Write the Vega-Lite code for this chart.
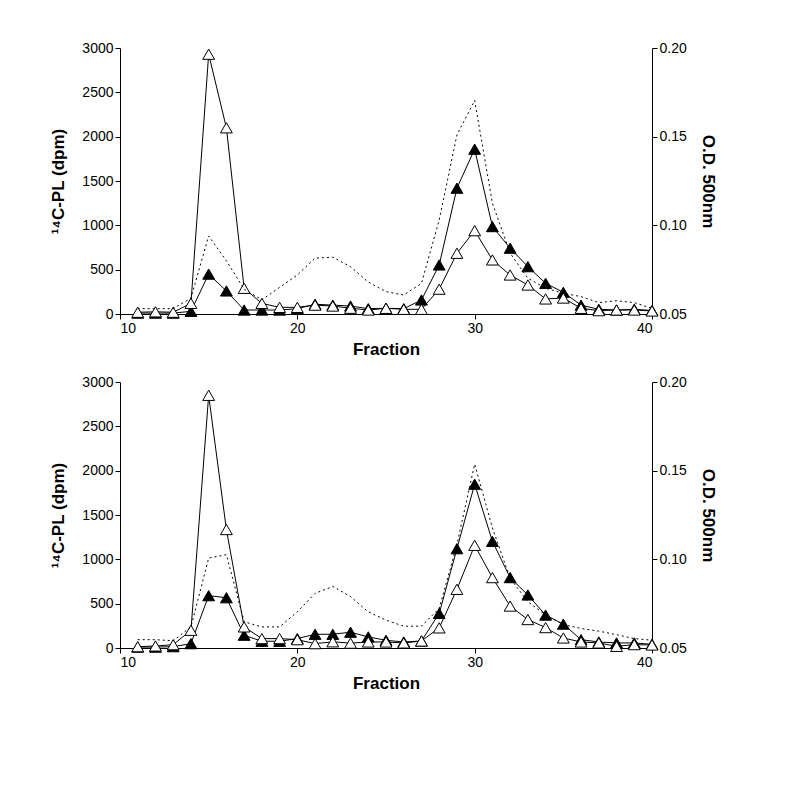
{
  "$schema": "https://vega.github.io/schema/vega-lite/v6.json",
  "padding": {"left": 49, "top": 41, "right": 5, "bottom": 5},
  "background": "white",
  "bounds": "flush",
  "spacing": 68,
  "config": {
    "view": {"stroke": null},
    "axis": {
      "labelFont": "Liberation Sans", "labelFontSize": 14, "labelColor": "black",
      "titleFont": "Liberation Sans", "titleFontSize": 17, "titleFontWeight": "bold", "titleColor": "black",
      "domainColor": "black", "tickColor": "black", "grid": false, "tickSize": 5, "labelPadding": 2
    }
  },
  "datasets": {
    "d": [
      {"p":1,"f":11,"open":20,"filled":10,"od":0.053},
      {"p":1,"f":12,"open":25,"filled":10,"od":0.053},
      {"p":1,"f":13,"open":20,"filled":10,"od":0.053},
      {"p":1,"f":14,"open":120,"filled":30,"od":0.059},
      {"p":1,"f":15,"open":2930,"filled":450,"od":0.094},
      {"p":1,"f":16,"open":2100,"filled":260,"od":0.080},
      {"p":1,"f":17,"open":290,"filled":45,"od":0.064},
      {"p":1,"f":18,"open":120,"filled":45,"od":0.058},
      {"p":1,"f":19,"open":75,"filled":45,"od":0.065},
      {"p":1,"f":20,"open":75,"filled":60,"od":0.072},
      {"p":1,"f":21,"open":100,"filled":110,"od":0.0815},
      {"p":1,"f":22,"open":90,"filled":100,"od":0.082},
      {"p":1,"f":23,"open":65,"filled":90,"od":0.0767},
      {"p":1,"f":24,"open":45,"filled":60,"od":0.068},
      {"p":1,"f":25,"open":64,"filled":65,"od":0.0626},
      {"p":1,"f":26,"open":53,"filled":60,"od":0.0607},
      {"p":1,"f":27,"open":53,"filled":158,"od":0.0673},
      {"p":1,"f":28,"open":280,"filled":553,"od":0.103},
      {"p":1,"f":29,"open":685,"filled":1419,"od":0.151},
      {"p":1,"f":30,"open":940,"filled":1859,"od":0.1704},
      {"p":1,"f":31,"open":610,"filled":986,"od":0.1125},
      {"p":1,"f":32,"open":440,"filled":742,"od":0.0843},
      {"p":1,"f":33,"open":327,"filled":534,"od":0.0702},
      {"p":1,"f":34,"open":170,"filled":346,"od":0.0645},
      {"p":1,"f":35,"open":180,"filled":245,"od":0.0617},
      {"p":1,"f":36,"open":64,"filled":100,"od":0.0598},
      {"p":1,"f":37,"open":38,"filled":53,"od":0.0564},
      {"p":1,"f":38,"open":45,"filled":45,"od":0.0575},
      {"p":1,"f":39,"open":45,"filled":53,"od":0.0564},
      {"p":1,"f":40,"open":34,"filled":40,"od":0.0532},
      {"p":2,"f":11,"open":15,"filled":10,"od":0.0547},
      {"p":2,"f":12,"open":23,"filled":10,"od":0.0547},
      {"p":2,"f":13,"open":37,"filled":15,"od":0.0541},
      {"p":2,"f":14,"open":200,"filled":49,"od":0.0619},
      {"p":2,"f":15,"open":2850,"filled":590,"od":0.1007},
      {"p":2,"f":16,"open":1336,"filled":567,"od":0.1026},
      {"p":2,"f":17,"open":238,"filled":144,"od":0.0648},
      {"p":2,"f":18,"open":106,"filled":76,"od":0.0619},
      {"p":2,"f":19,"open":106,"filled":76,"od":0.0619},
      {"p":2,"f":20,"open":94,"filled":106,"od":0.0704},
      {"p":2,"f":21,"open":49,"filled":155,"od":0.0808},
      {"p":2,"f":22,"open":70,"filled":155,"od":0.0847},
      {"p":2,"f":23,"open":55,"filled":178,"od":0.079},
      {"p":2,"f":24,"open":68,"filled":125,"od":0.0704},
      {"p":2,"f":25,"open":68,"filled":87,"od":0.0657},
      {"p":2,"f":26,"open":57,"filled":68,"od":0.0623},
      {"p":2,"f":27,"open":79,"filled":79,"od":0.0623},
      {"p":2,"f":28,"open":227,"filled":390,"od":0.0723},
      {"p":2,"f":29,"open":662,"filled":1120,"od":0.1083},
      {"p":2,"f":30,"open":1158,"filled":1847,"od":0.1537},
      {"p":2,"f":31,"open":794,"filled":1203,"od":0.1177},
      {"p":2,"f":32,"open":473,"filled":794,"od":0.0893},
      {"p":2,"f":33,"open":321,"filled":598,"od":0.0761},
      {"p":2,"f":34,"open":230,"filled":371,"od":0.0686},
      {"p":2,"f":35,"open":113,"filled":269,"od":0.0632},
      {"p":2,"f":36,"open":68,"filled":94,"od":0.061},
      {"p":2,"f":37,"open":57,"filled":68,"od":0.0595},
      {"p":2,"f":38,"open":19,"filled":57,"od":0.0575},
      {"p":2,"f":39,"open":38,"filled":57,"od":0.0553},
      {"p":2,"f":40,"open":34,"filled":42,"od":0.0544}
    ]
  },
  "vconcat": [
    {
      "width": 532, "height": 266,
      "data": {"name": "d"},
      "transform": [{"filter": "datum.p == 1"}],
      "layer": [
        {
          "transform": [{"fold": ["filled", "open"], "as": ["type", "dpm"]}],
          "encoding": {
            "x": {"field": "f", "type": "quantitative", "scale": {"domain": [10, 40], "nice": false}, "axis": {"values": [10, 20, 30, 40], "title": "Fraction", "titlePadding": 6}},
            "y": {"field": "dpm", "type": "quantitative", "scale": {"domain": [0, 3000], "nice": false}, "axis": {"values": [0, 500, 1000, 1500, 2000, 2500, 3000], "format": "d", "title": "¹⁴C-PL (dpm)", "titlePadding": 14}}
          },
          "layer": [
            {"mark": {"type": "line", "color": "black", "strokeWidth": 1}, "encoding": {"detail": {"field": "type"}}},
            {"mark": {"type": "point", "shape": "triangle-up", "size": 140, "stroke": "black", "strokeWidth": 1, "opacity": 1, "filled": true},
             "encoding": {"fill": {"field": "type", "type": "nominal", "scale": {"domain": ["filled", "open"], "range": ["black", "white"]}, "legend": null}}}
          ]
        },
        {
          "mark": {"type": "line", "color": "black", "strokeWidth": 1, "strokeDash": [2, 3]},
          "encoding": {
            "x": {"field": "f", "type": "quantitative", "scale": {"domain": [10, 40], "nice": false}},
            "y": {"field": "od", "type": "quantitative", "scale": {"domain": [0.05, 0.2], "nice": false, "zero": false}, "axis": {"orient": "right", "values": [0.05, 0.1, 0.15, 0.2], "format": ".2f", "title": "O.D. 500nm", "titlePadding": 12}}
          }
        }
      ],
      "resolve": {"scale": {"y": "independent"}}
    },
    {
      "width": 532, "height": 266,
      "data": {"name": "d"},
      "transform": [{"filter": "datum.p == 2"}],
      "layer": [
        {
          "transform": [{"fold": ["filled", "open"], "as": ["type", "dpm"]}],
          "encoding": {
            "x": {"field": "f", "type": "quantitative", "scale": {"domain": [10, 40], "nice": false}, "axis": {"values": [10, 20, 30, 40], "title": "Fraction", "titlePadding": 6}},
            "y": {"field": "dpm", "type": "quantitative", "scale": {"domain": [0, 3000], "nice": false}, "axis": {"values": [0, 500, 1000, 1500, 2000, 2500, 3000], "format": "d", "title": "¹⁴C-PL (dpm)", "titlePadding": 14}}
          },
          "layer": [
            {"mark": {"type": "line", "color": "black", "strokeWidth": 1}, "encoding": {"detail": {"field": "type"}}},
            {"mark": {"type": "point", "shape": "triangle-up", "size": 140, "stroke": "black", "strokeWidth": 1, "opacity": 1, "filled": true},
             "encoding": {"fill": {"field": "type", "type": "nominal", "scale": {"domain": ["filled", "open"], "range": ["black", "white"]}, "legend": null}}}
          ]
        },
        {
          "mark": {"type": "line", "color": "black", "strokeWidth": 1, "strokeDash": [2, 3]},
          "encoding": {
            "x": {"field": "f", "type": "quantitative", "scale": {"domain": [10, 40], "nice": false}},
            "y": {"field": "od", "type": "quantitative", "scale": {"domain": [0.05, 0.2], "nice": false, "zero": false}, "axis": {"orient": "right", "values": [0.05, 0.1, 0.15, 0.2], "format": ".2f", "title": "O.D. 500nm", "titlePadding": 12}}
          }
        }
      ],
      "resolve": {"scale": {"y": "independent"}}
    }
  ]
}
